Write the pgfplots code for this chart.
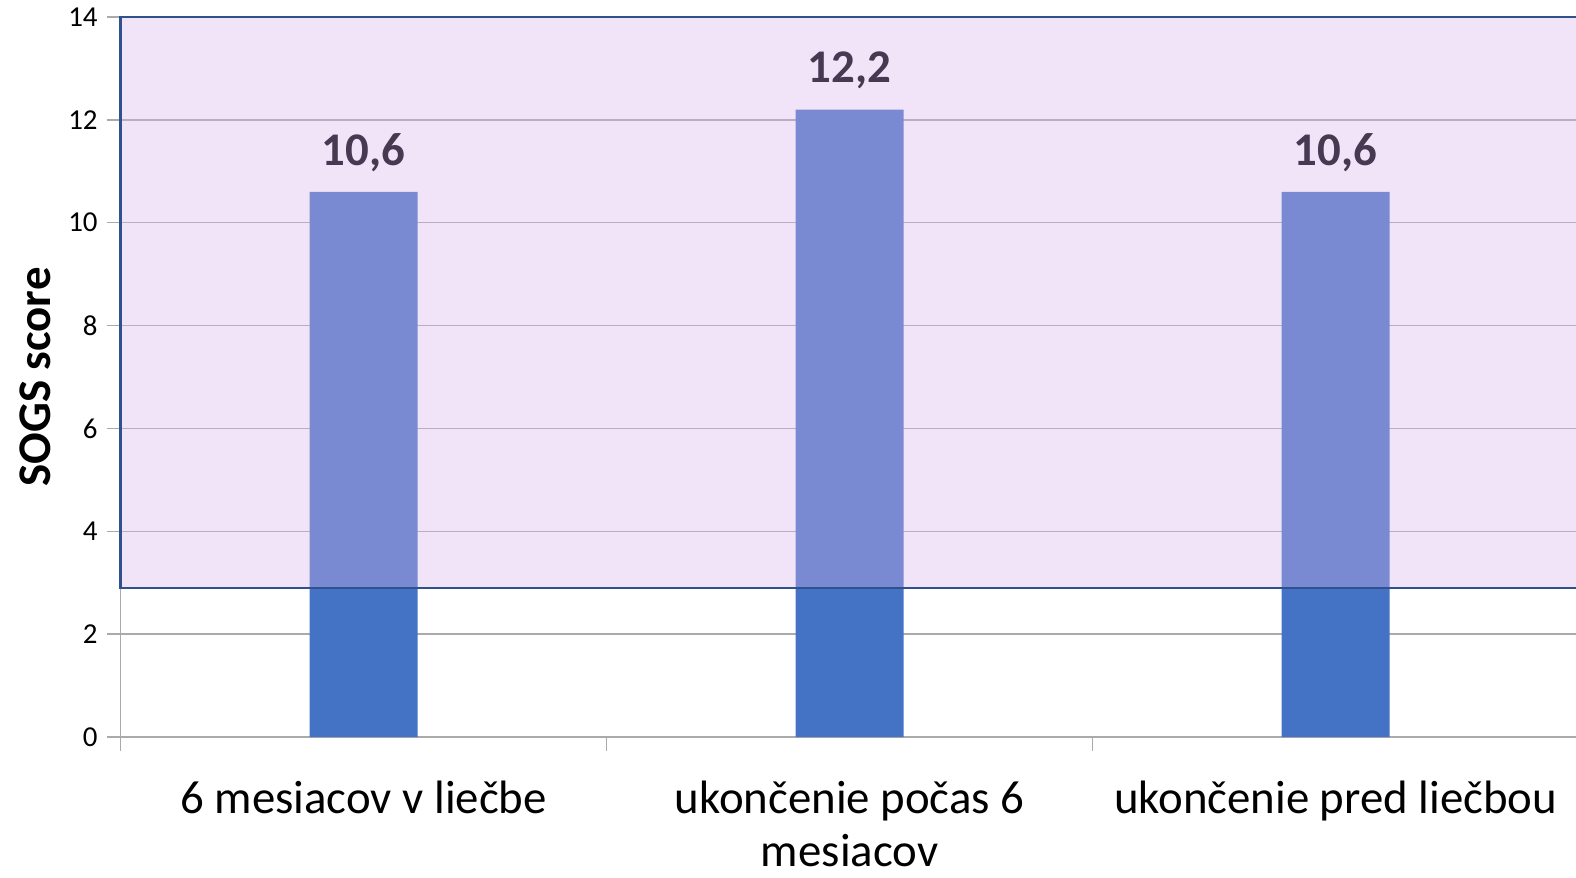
\documentclass[border=0pt]{standalone}
\usepackage{fontspec}
\setmainfont{Carlito}
\usepackage{pgfplots}
\pgfplotsset{compat=1.18}
\definecolor{barblue}{RGB}{68,114,196}
\definecolor{ovl}{RGB}{219,181,236}
\definecolor{ovlborder}{RGB}{47,82,143}
\definecolor{gridgray}{RGB}{170,170,170}
\definecolor{lblcol}{RGB}{72,56,82}
\begin{document}
\begin{tikzpicture}
\begin{axis}[
 scale only axis, width=729bp, height=360bp,
 xmin=-0.5, xmax=2.5, ymin=0, ymax=14,
 clip=false,
 /pgf/number format/assume math mode=true,
 axis x line*=bottom, axis y line*=left,
 axis line style={gridgray, line width=0.7bp},
 xtick={-0.5,0.5,1.5,2.5},
 x tick label as interval,
 xticklabels={6 mesiacov v liečbe,{ukončenie počas 6\\mesiacov},ukončenie pred liečbou},
 xticklabel style={font=\fontsize{23.5}{26.8}\selectfont, align=center, inner sep=0pt, yshift=-14.6bp},
 ytick={0,2,...,14},
 yticklabel style={font=\fontsize{14.5}{17}\selectfont, xshift=-1bp},
 major tick length=7bp,
 tick align=outside,
 tick style={gridgray, line width=0.7bp},
 ymajorgrids, grid style={gridgray, line width=0.7bp},
 ylabel={\textbf{SOGS score}},
 ylabel style={font=\fontsize{23.5}{28}\selectfont, at={(axis description cs:-0.0583,0.5)}, anchor=center, rotate=0},
]
\addplot[ybar, bar shift=0pt, bar width=54bp, fill=barblue, draw=none] coordinates {(0,10.6) (1,12.2) (2,10.6)};
\addplot[draw=ovlborder, line width=1.2bp, fill=ovl, fill opacity=0.36] coordinates {(2.5,2.9) (-0.5,2.9) (-0.5,14) (2.5,14)};
\addplot[ybar, bar shift=0pt, bar width=54bp, fill=none, draw=none,
  nodes near coords={\pgfmathprintnumber[fixed,fixed zerofill,precision=1,use comma]{\pgfplotspointmeta}},
  every node near coord/.append style={anchor=center, yshift=19.5bp, font=\bfseries\fontsize{23.5}{28}\selectfont, text=lblcol}]
  coordinates {(0,10.6) (1,12.2) (2,10.6)};
\end{axis}
\pgfresetboundingbox
\useasboundingbox (-60.3bp,-70.5bp) rectangle (727.7bp,368.5bp);
\end{tikzpicture}
\end{document}
